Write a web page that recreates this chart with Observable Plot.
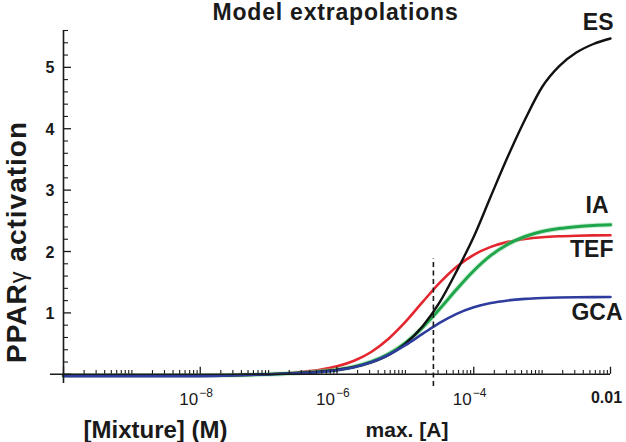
<!DOCTYPE html>
<html>
<head>
<meta charset="utf-8">
<script src="https://cdn.jsdelivr.net/npm/d3@7"></script>
<script src="https://cdn.jsdelivr.net/npm/@observablehq/plot@0.6"></script>
<style>
  html, body { margin: 0; padding: 0; background: #ffffff; }
  #chart svg { display: block; }
</style>
</head>
<body>
<div id="chart"></div>
<script>
// ---- data ----
const logConc = [-10, -8, -7, -6.5, -6.25, -6, -5.75, -5.5, -5.25, -5, -4.75, -4.5, -4.25, -4, -3.75, -3.5, -3.25, -3, -2.75, -2.5, -2.25, -2];
const esValues  = [-0.02, -0.02, 0.0, 0.027, 0.044, 0.072, 0.118, 0.193, 0.31, 0.50, 0.78, 1.17, 1.68, 2.24, 2.90, 3.55, 4.15, 4.68, 5.02, 5.24, 5.38, 5.47];
const iaValues  = [-0.02, -0.02, 0.0, 0.026, 0.045, 0.075, 0.125, 0.205, 0.329, 0.512, 0.761, 1.062, 1.385, 1.687, 1.937, 2.119, 2.244, 2.325, 2.375, 2.405, 2.424, 2.434];
const tefValues = [-0.02, -0.02, 0.0, 0.042, 0.074, 0.129, 0.22, 0.363, 0.575, 0.853, 1.174, 1.489, 1.753, 1.947, 2.076, 2.157, 2.205, 2.233, 2.248, 2.257, 2.263, 2.266];
const gcaValues = [-0.03, -0.03, 0.0, 0.021, 0.038, 0.067, 0.116, 0.196, 0.314, 0.474, 0.657, 0.836, 0.984, 1.091, 1.161, 1.203, 1.228, 1.242, 1.25, 1.254, 1.257, 1.258];
const seriesNames = ["ES", "IA", "TEF", "GCA"];
const maxA = [2.57e-5];
const maxALabel = "max. [A]";
const yMajorTicks = [0, 1, 2, 3, 4, 5];
const yTickLabels = ["", "1", "2", "3", "4", "5"];
const xMajorTicks = [1e-10, 1e-8, 1e-6, 1e-4, 1e-2];
const xLabelBase = ["10", "10", "10", "0.01"];
const xLabelExp  = ["\u22128", "\u22126", "\u22124", ""];
const xLabelAt   = [1e-8, 1e-6, 1e-4, 1e-2];
const titleText = "Model extrapolations";
const yLabel = "PPAR\u03b3 activation";
const xLabel = "[Mixture] (M)";

// ---- tables built from the arrays ----
const valuesBy = {ES: esValues, IA: iaValues, TEF: tefValues, GCA: gcaValues};
const rows = [];
for (const name of seriesNames) valuesBy[name].forEach((v, i) => rows.push({name, c: Math.pow(10, logConc[i]), v}));
const ends = seriesNames.map(name => ({name, c: Math.pow(10, logConc[logConc.length - 1]), v: valuesBy[name][valuesBy[name].length - 1]}));
const yMinorTicks = d3.range(1, 29).map(k => k * 0.2).filter(v => Math.abs(v - Math.round(v)) > 1e-6);
const xMinorTicks = [];
for (let e = -10; e <= -3; e++) for (let m = 1; m <= 9; m++) {
  if (m === 1 && e % 2 === 0) continue;
  xMinorTicks.push(m * Math.pow(10, e));
}
const xLabels = xLabelAt.map((c, i) => ({c, base: xLabelBase[i], exp: xLabelExp[i]}));
const yLabelsTbl = yMajorTicks.map((v, i) => ({v, t: yTickLabels[i]}));

// ---- styles ----
const font = "'Liberation Sans', Arial, Helvetica, sans-serif";
const ink = "#1a1a1a";
const color = {ES: "#111111", IA: "#1fa64b", TEF: "#e4262f", GCA: "#2e3c9d"};
const lab = {
  ES:  {dx: 3,  dy: -8},
  IA:  {dx: -2, dy: -11.4},
  TEF: {dx: 3,  dy: 22.3},
  GCA: {dx: 12, dy: 23.4}
};
const sel = name => rows.filter(d => d.name === name);

const plot = Plot.plot({
  width: 626,
  height: 442,
  marginLeft: 63,
  marginRight: 16,
  marginTop: 30,
  marginBottom: 59,
  x: {type: "log", domain: [1e-10, 1e-2], axis: null},
  y: {domain: [-0.15, 5.6], axis: null},
  style: {fontFamily: font, background: "#ffffff", color: ink, overflow: "visible"},
  marks: [
    // curves
    Plot.line(sel("TEF"), {x: "c", y: "v", stroke: color.TEF, strokeWidth: 2.6, curve: "monotone-x"}),
    Plot.line(sel("IA"), {x: "c", y: "v", stroke: "#8fd8a3", strokeWidth: 5, strokeOpacity: 0.45, curve: "monotone-x"}),
    Plot.line(sel("IA"), {x: "c", y: "v", stroke: color.IA, strokeWidth: 3, curve: "monotone-x"}),
    Plot.line(sel("ES"), {x: "c", y: "v", stroke: color.ES, strokeWidth: 2.4, curve: "monotone-x"}),
    Plot.line(sel("GCA"), {x: "c", y: "v", stroke: color.GCA, strokeWidth: 2.6, curve: "monotone-x"}),

    // dashed marker of max. [A]
    Plot.ruleX(maxA, {x: d => d, y1: -0.2, y2: 1.886, stroke: ink, strokeWidth: 1.6, strokeDasharray: "5,3.5"}),

    // axes lines
    Plot.ruleY([0], {y: d => d, x1: 1e-10, x2: 1e-2, insetLeft: -13, stroke: ink, strokeWidth: 1.6}),
    Plot.ruleX([1e-10], {x: d => d, y1: -0.15, y2: 5.6, stroke: ink, strokeWidth: 1.6}),

    // y ticks (inward)
    Plot.tickY(yMajorTicks, {y: d => d, insetRight: 539, stroke: ink, strokeWidth: 1.3}),
    Plot.tickY(yMinorTicks, {y: d => d, insetRight: 542, stroke: ink, strokeWidth: 1.1}),

    // x ticks (inward / upward)
    Plot.ruleX(xMajorTicks, {x: d => d, y1: 0, y2: 0.115, stroke: ink, strokeWidth: 1.3}),
    Plot.ruleX(xMinorTicks, {x: d => d, y1: 0, y2: 0.06, stroke: ink, strokeWidth: 1.1}),

    // y tick labels
    Plot.text(yLabelsTbl, {y: "v", text: "t", frameAnchor: "left", dx: -9, dy: 1, textAnchor: "end", lineAnchor: "middle", fontSize: 16, fontWeight: "bold", fill: ink}),

    // x tick labels
    Plot.text(xLabels.filter(d => d.exp), {x: "c", y: 0, text: "base", dx: -2, dy: 31, textAnchor: "end", lineAnchor: "bottom", fontSize: 17, fill: ink}),
    Plot.text(xLabels.filter(d => d.exp), {x: "c", y: 0, text: "exp", dx: -1, dy: 23, textAnchor: "start", lineAnchor: "bottom", fontSize: 12, fill: ink}),
    Plot.text(xLabels.filter(d => !d.exp), {x: "c", y: 0, text: "base", dx: -4, dy: 29, textAnchor: "middle", lineAnchor: "bottom", fontSize: 16, fontWeight: "bold", fill: ink}),

    // series labels
    ...seriesNames.map(name => Plot.text(ends.filter(d => d.name === name), {
      x: "c", y: "v", text: "name", textAnchor: "end", lineAnchor: "bottom",
      dx: lab[name].dx, dy: lab[name].dy, fontSize: 23, fontWeight: "bold", fill: ink
    })),

    // max. [A] label
    Plot.text(maxA, {x: d => d, y: 0, text: () => maxALabel, dx: 15, dy: 63, textAnchor: "end", lineAnchor: "bottom", fontSize: 21, fontWeight: "bold", fill: ink}),

    // title
    Plot.text([titleText], {text: d => d, frameAnchor: "top", dx: -1.5, dy: -11, textAnchor: "middle", lineAnchor: "bottom", fontSize: 23, fontWeight: "bold", fill: ink}),

    // axis titles
    Plot.text([xLabel], {text: d => d, frameAnchor: "bottom-left", dx: 20, dy: 54, textAnchor: "start", lineAnchor: "bottom", fontSize: 24, fontWeight: "bold", fill: ink}),
    Plot.text([yLabel], {text: d => d, frameAnchor: "left", rotate: -90, dx: -46, dy: 35, textAnchor: "middle", lineAnchor: "middle", fontSize: 28, fontWeight: "bold", fill: ink})
  ]
});

// text refinements: letter spacing and a thin gamma
const svg = d3.select(plot);
svg.selectAll("text").each(function () {
  const t = d3.select(this);
  const s = this.textContent;
  if (s === titleText) t.attr("letter-spacing", "0.8px");
  if (s === yLabel) {
    t.attr("letter-spacing", "1px");
    t.text(null);
    t.append("tspan").text("PPAR");
    t.append("tspan").attr("font-weight", "normal").attr("font-size", "0.85em").text("\u03b3");
    t.append("tspan").text(" activation");
  }
});

document.getElementById("chart").appendChild(plot);
</script>
</body>
</html>
